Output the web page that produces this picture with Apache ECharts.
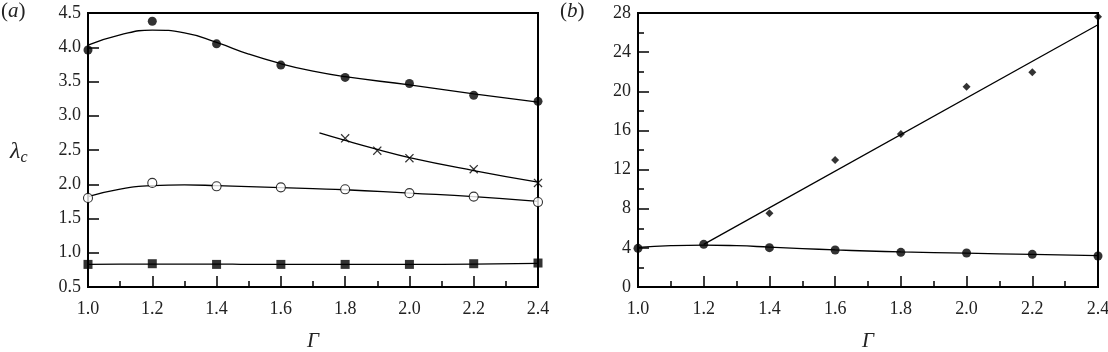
<!DOCTYPE html>
<html>
<head>
<meta charset="utf-8">
<script src="https://cdn.jsdelivr.net/npm/echarts@6/dist/echarts.min.js"></script>
<style>
  html, body { margin: 0; padding: 0; background: #fff; }
  #chart { width: 1108px; height: 352px; }
</style>
</head>
<body>
<div id="chart"></div>
<script>
// Γ values of the measured points
const gammas = [1.0, 1.2, 1.4, 1.6, 1.8, 2.0, 2.2, 2.4]

// panel (a) markers
const filledA = [3.96, 4.38, 4.05, 3.74, 3.56, 3.47, 3.30, 3.21]
const openA = [1.80, 2.02, 1.97, 1.955, 1.926, 1.87, 1.82, 1.74]
const squareA = [0.83, 0.84, 0.83, 0.83, 0.83, 0.83, 0.84, 0.85]
const crossGammas = [1.8, 1.9, 2.0, 2.2, 2.4]
const crossA = [2.67, 2.49, 2.38, 2.22, 2.02]

// panel (a) fitted curves
const fitGammas = [1.0, 1.1, 1.2, 1.3, 1.4, 1.5, 1.6, 1.7, 1.8, 2.0, 2.2, 2.4]
const fitFilled = [4.03, 4.18, 4.25, 4.21, 4.07, 3.90, 3.76, 3.65, 3.57, 3.45, 3.32, 3.20]
const fitOpen = [1.82, 1.93, 1.98, 1.99, 1.98, 1.965, 1.95, 1.935, 1.92, 1.87, 1.82, 1.75]
const fitSquare = [0.83, 0.835, 0.835, 0.835, 0.835, 0.83, 0.83, 0.83, 0.83, 0.83, 0.835, 0.845]
const fitCrossGammas = [1.72, 1.8, 1.9, 2.0, 2.2, 2.4]
const fitCross = [2.75, 2.64, 2.51, 2.39, 2.20, 2.03]

// panel (b)
const filledB = [3.95, 4.36, 4.02, 3.78, 3.54, 3.47, 3.34, 3.17]
const fitFilledB = [4.05, 4.22, 4.28, 4.22, 4.08, 3.93, 3.79, 3.68, 3.59, 3.46, 3.33, 3.21]
const diamondGammas = [1.4, 1.6, 1.8, 2.0, 2.2, 2.4]
const diamondB = [7.53, 12.98, 15.63, 20.47, 21.94, 27.62]
const fitLineGammas = [1.2, 2.4]
const fitLineB = [4.36, 26.8]

const pair = (xs, ys) => xs.map((x, i) => [x, ys[i]])

const font = 'Liberation Serif'
const ink = '#222'
// thin filled "x" marker
const crossSymbol = 'path://M0,1L1,0L5,4L9,0L10,1L6,5L10,9L9,10L5,6L1,10L0,9L4,5Z'
const chart = echarts.init(document.getElementById('chart'))

const tick = () => ({ show: true, inside: true, length: 11, lineStyle: { color: '#000', width: 1.5 } })
const minor = () => ({ show: true, splitNumber: 2, length: 6, lineStyle: { color: '#000', width: 1.5 } })
const axisLine = () => ({ show: true, onZero: false, lineStyle: { color: '#000', width: 2 } })

const xAxisBase = (gridIndex) => ({
  type: 'value',
  gridIndex: gridIndex,
  min: 1.0,
  max: 2.4,
  interval: 0.2,
  axisLine: axisLine(),
  axisTick: tick(),
  minorTick: minor(),
  splitLine: { show: false },
  axisLabel: {
    margin: 13,
    color: ink,
    fontFamily: font,
    fontSize: 18,
    formatter: (v) => v.toFixed(1),
  },
  name: 'Γ',
  nameLocation: 'middle',
  nameGap: 44,
  nameTextStyle: { fontFamily: font, fontStyle: 'italic', fontSize: 21, color: ink },
})

// top frame line
const frameX = (gridIndex) => ({
  type: 'value',
  gridIndex: gridIndex,
  position: 'top',
  min: 1.0,
  max: 2.4,
  axisLine: axisLine(),
  axisTick: { show: false },
  axisLabel: { show: false },
  splitLine: { show: false },
})

const lineSeries = (xi, yi, data) => ({
  type: 'line',
  xAxisIndex: xi,
  yAxisIndex: yi,
  data: data,
  smooth: true,
  showSymbol: false,
  lineStyle: { color: '#000', width: 1.3 },
  z: 2,
})

const scatterSeries = (xi, yi, data, symbol, size, filled) => ({
  type: 'scatter',
  xAxisIndex: xi,
  yAxisIndex: yi,
  data: data,
  symbol: symbol,
  symbolSize: size,
  itemStyle: filled
    ? { color: '#000' }
    : { color: '#fff', borderColor: '#000', borderWidth: 1.1 },
  z: 3,
})

const option = {
  animation: false,
  grid: [
    { left: 88, right: 570, top: 13, bottom: 65, outerBoundsMode: 'none', show: true, borderColor: '#000', borderWidth: 2 },
    { left: 638, right: 10, top: 13, bottom: 65, outerBoundsMode: 'none', show: true, borderColor: '#000', borderWidth: 2 },
  ],
  xAxis: [xAxisBase(0), xAxisBase(1), frameX(0), frameX(1)],
  yAxis: [
    {
      type: 'value',
      gridIndex: 0,
      min: 0.5,
      max: 4.5,
      interval: 0.5,
      axisLine: axisLine(),
      axisTick: tick(),
      splitLine: { show: false },
      axisLabel: {
        margin: 7,
        color: ink,
        fontFamily: font,
        fontSize: 18,
        formatter: (v) => v.toFixed(1),
      },
    },
    {
      type: 'value',
      gridIndex: 1,
      min: 0,
      max: 28,
      interval: 4,
      axisLine: axisLine(),
      axisTick: tick(),
      minorTick: minor(),
      splitLine: { show: false },
      axisLabel: { margin: 7, color: ink, fontFamily: font, fontSize: 18 },
    },
  ],
  graphic: [
    {
      type: 'text',
      left: 1,
      top: 1,
      style: {
        text: '({a|a})',
        fontFamily: font,
        fontSize: 21,
        fill: ink,
        rich: { a: { fontFamily: font, fontSize: 21, fontStyle: 'italic', fill: ink } },
      },
    },
    {
      type: 'text',
      left: 560,
      top: 1,
      style: {
        text: '({b|b})',
        fontFamily: font,
        fontSize: 21,
        fill: ink,
        rich: { b: { fontFamily: font, fontSize: 21, fontStyle: 'italic', fill: ink } },
      },
    },
    {
      type: 'text',
      left: 10,
      top: 140,
      style: {
        text: '{l|λ}{s|c}',
        rich: {
          l: { fontFamily: font, fontSize: 24, fontStyle: 'italic', fill: ink },
          s: { fontFamily: font, fontSize: 16, fontStyle: 'italic', fill: ink, padding: [12, 0, 0, 0] },
        },
      },
    },
  ],
  series: [
    lineSeries(0, 0, pair(fitGammas, fitFilled)),
    lineSeries(0, 0, pair(fitGammas, fitOpen)),
    lineSeries(0, 0, pair(fitGammas, fitSquare)),
    lineSeries(0, 0, pair(fitCrossGammas, fitCross)),
    scatterSeries(0, 0, pair(gammas, filledA), 'circle', 9, true),
    scatterSeries(0, 0, pair(gammas, openA), 'circle', 9, false),
    scatterSeries(0, 0, pair(gammas, squareA), 'rect', 9, true),
    scatterSeries(0, 0, pair(crossGammas, crossA), crossSymbol, 9, true),
    lineSeries(1, 1, pair(fitGammas, fitFilledB)),
    {
      type: 'line',
      xAxisIndex: 1,
      yAxisIndex: 1,
      data: pair(fitLineGammas, fitLineB),
      showSymbol: false,
      lineStyle: { color: '#000', width: 1.3 },
      z: 2,
    },
    scatterSeries(1, 1, pair(gammas, filledB), 'circle', 9, true),
    scatterSeries(1, 1, pair(diamondGammas, diamondB), 'diamond', 8, true),
  ],
}

chart.setOption(option)
</script>
</body>
</html>
